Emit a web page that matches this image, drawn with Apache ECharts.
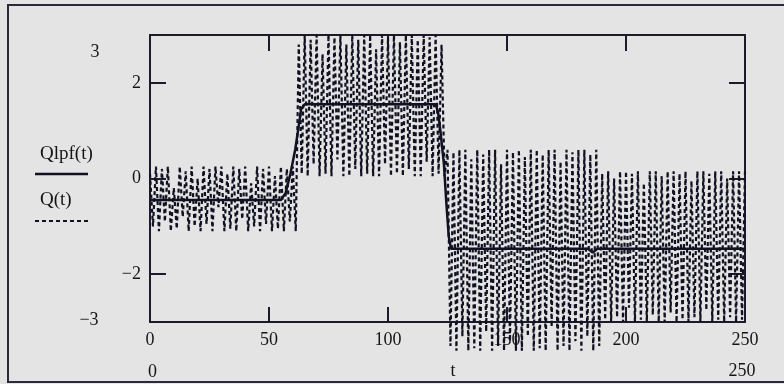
<!DOCTYPE html>
<html><head><meta charset="utf-8">
<script src="https://cdn.jsdelivr.net/npm/echarts@6/dist/echarts.min.js"></script>
<style>html,body{margin:0;padding:0;background:#e4e4e4}#c{width:784px;height:384px}</style>
</head><body><div id="c"></div>
<script>
// Q(t) sampled every qStep along t
const qStep = 1.25;
const qBand1 = [0.1,-1.0,0.25,-1.1,0.2,-0.9,0.25,-1.1,-0.2,-1.05,
  0.25,-0.8,0.15,-1.1,0.25,-1.0,0.0,-1.1,0.25,-0.95,
  0.2,-1.1,0.25,-0.6,0.25,-1.1,0.1,-1.05,0.25,-1.1,
  0.2,-0.85,0.25,-1.1,-0.1,-1.0,0.25,-1.1,0.2,-0.95,
  0.25,-1.1,0.05,-1.05,0.25,-1.1,0.2,-0.9,0.25,-1.1];
const qBand2 = [2.8,0.1,3.0,0.05,2.9,0.3,3.0,0.05,2.6,0.1,
  3.0,0.05,2.95,0.4,3.0,0.05,2.8,0.05,3.0,0.2,
  2.9,0.05,3.0,0.1,3.0,0.05,2.7,0.05,3.0,0.3,
  2.95,0.05,3.0,0.1,2.85,0.05,3.0,0.2,3.0,0.05,
  2.9,0.05,3.0,0.35,2.95,0.05,3.0,0.1,2.8,0.05];
const qBand3 = [0.6,-3.5,0.55,-3.6,0.6,-3.3,0.6,-3.6,0.4,-3.55,
  0.6,-3.6,0.5,-3.2,0.6,-3.6,0.6,-3.5,0.3,-3.6,
  0.6,-3.4,0.55,-3.6,0.6,-3.6,0.45,-3.3,0.6,-3.6,
  0.6,-3.55,0.5,-3.6,0.6,-3.1,0.6,-3.6,0.35,-3.5,
  0.6,-3.6,0.55,-3.4,0.6,-3.6,0.6,-3.3,0.5,-3.6,
  0.6,-3.5];
const qBand4 = [0.1,-2.95,0.15,-3.0,0.0,-2.9,0.15,-3.0,0.15,-2.7,
  0.1,-3.0,0.15,-2.95,-0.1,-3.0,0.15,-2.85,0.15,-3.0,
  0.05,-3.0,0.15,-2.8,0.15,-3.0,0.1,-2.95,0.15,-3.0,
  -0.05,-2.9,0.15,-3.0,0.15,-2.75,0.1,-3.0,0.15,-2.95,
  0.15,-3.0,0.0,-2.9,0.15,-3.0,0.15,-2.95,0.15];
// Qlpf(t)
const lpfT = [0,55,57,59,61,62.5,63.5,65,120,121,122,123.5,124.5,125.5,126.5,184,186,188,250];
const lpfV = [-0.45,-0.45,-0.3,0.1,0.6,1.1,1.45,1.55,1.55,1.4,1.0,0.3,-0.5,-1.2,-1.47,-1.47,-1.55,-1.47,-1.47];
const xLabelTicks = [0,50,100,150,200,250];
const yLabelTicks = [-2,0,2];

const qVals = [...qBand1, ...qBand2, ...qBand3, ...qBand4];
const qData = qVals.map((v,i)=>[i*qStep, v]);
const lpfData = lpfT.map((t,i)=>[t, lpfV[i]]);

const ink = '#1b1b2c';
const font = '"Liberation Serif","Times New Roman",serif';
const fmt = v => (v < 0 ? '\u2212' + Math.abs(v) : String(v));

const chart = echarts.init(document.getElementById('c'));
chart.setOption({
  backgroundColor: '#e4e4e4',
  animation: false,
  grid: {left: 150, right: 39, top: 35, bottom: 62},
  xAxis: [{
    type: 'value', min: 0, max: 250, interval: 50, position: 'bottom',
    axisLine: {onZero: false, lineStyle: {color: ink, width: 2}},
    axisTick: {inside: true, length: 15, lineStyle: {color: ink, width: 2}},
    axisLabel: {color: '#151515', fontFamily: font, fontSize: 18, margin: 9, customValues: xLabelTicks},
    splitLine: {show: false}
  }, {
    type: 'value', min: 0, max: 250, interval: 50, position: 'top',
    axisLine: {onZero: false, lineStyle: {color: ink, width: 2}},
    axisTick: {inside: true, length: 16, lineStyle: {color: ink, width: 2}},
    axisLabel: {show: false}, splitLine: {show: false}
  }],
  yAxis: [{
    type: 'value', min: -3, max: 3, position: 'left',
    axisLine: {onZero: false, lineStyle: {color: ink, width: 2}},
    axisTick: {inside: true, length: 16, customValues: yLabelTicks, lineStyle: {color: ink, width: 2}},
    axisLabel: {color: '#151515', fontFamily: font, fontSize: 18, margin: 9, customValues: yLabelTicks, formatter: fmt},
    splitLine: {show: false}
  }, {
    type: 'value', min: -3, max: 3, position: 'right',
    axisLine: {onZero: false, lineStyle: {color: ink, width: 2}},
    axisTick: {inside: true, length: 16, customValues: yLabelTicks, lineStyle: {color: ink, width: 2}},
    axisLabel: {show: false}, splitLine: {show: false}
  }],
  series: [{
    name: 'Q(t)', type: 'line', data: qData, showSymbol: false, clip: false,
    lineStyle: {color: '#111122', width: 2.2, type: [4, 3]}, z: 2
  }, {
    name: 'Qlpf(t)', type: 'line', data: lpfData, showSymbol: false,
    lineStyle: {color: '#111122', width: 2.5}, z: 3
  }],
  graphic: [
    {type: 'rect', shape: {x: 8, y: 5, width: 800, height: 377}, style: {fill: 'none', stroke: '#2a2a3a', lineWidth: 2}},
    {type: 'text', x: 95, y: 52, style: {text: '3', font: '18px ' + font, fill: '#151515', align: 'center', verticalAlign: 'middle'}},
    {type: 'text', x: 89, y: 320, style: {text: '\u22123', font: '18px ' + font, fill: '#151515', align: 'center', verticalAlign: 'middle'}},
    {type: 'text', x: 40, y: 154, style: {text: 'Qlpf(t)', font: '19px ' + font, fill: '#151515', verticalAlign: 'middle'}},
    {type: 'line', shape: {x1: 35, y1: 174, x2: 88, y2: 174}, style: {stroke: '#111122', lineWidth: 2.5}},
    {type: 'text', x: 40, y: 200, style: {text: 'Q(t)', font: '19px ' + font, fill: '#151515', verticalAlign: 'middle'}},
    {type: 'line', shape: {x1: 35, y1: 221, x2: 88, y2: 221}, style: {stroke: '#111122', lineWidth: 2.2, lineDash: [4, 3]}},
    {type: 'text', x: 148, y: 372, style: {text: '0', font: '18px ' + font, fill: '#151515', verticalAlign: 'middle'}},
    {type: 'text', x: 453, y: 371, style: {text: 't', font: '18px ' + font, fill: '#151515', align: 'center', verticalAlign: 'middle'}},
    {type: 'text', x: 742, y: 371, style: {text: '250', font: '18px ' + font, fill: '#151515', align: 'center', verticalAlign: 'middle'}}
  ]
});
</script>
</body></html>
